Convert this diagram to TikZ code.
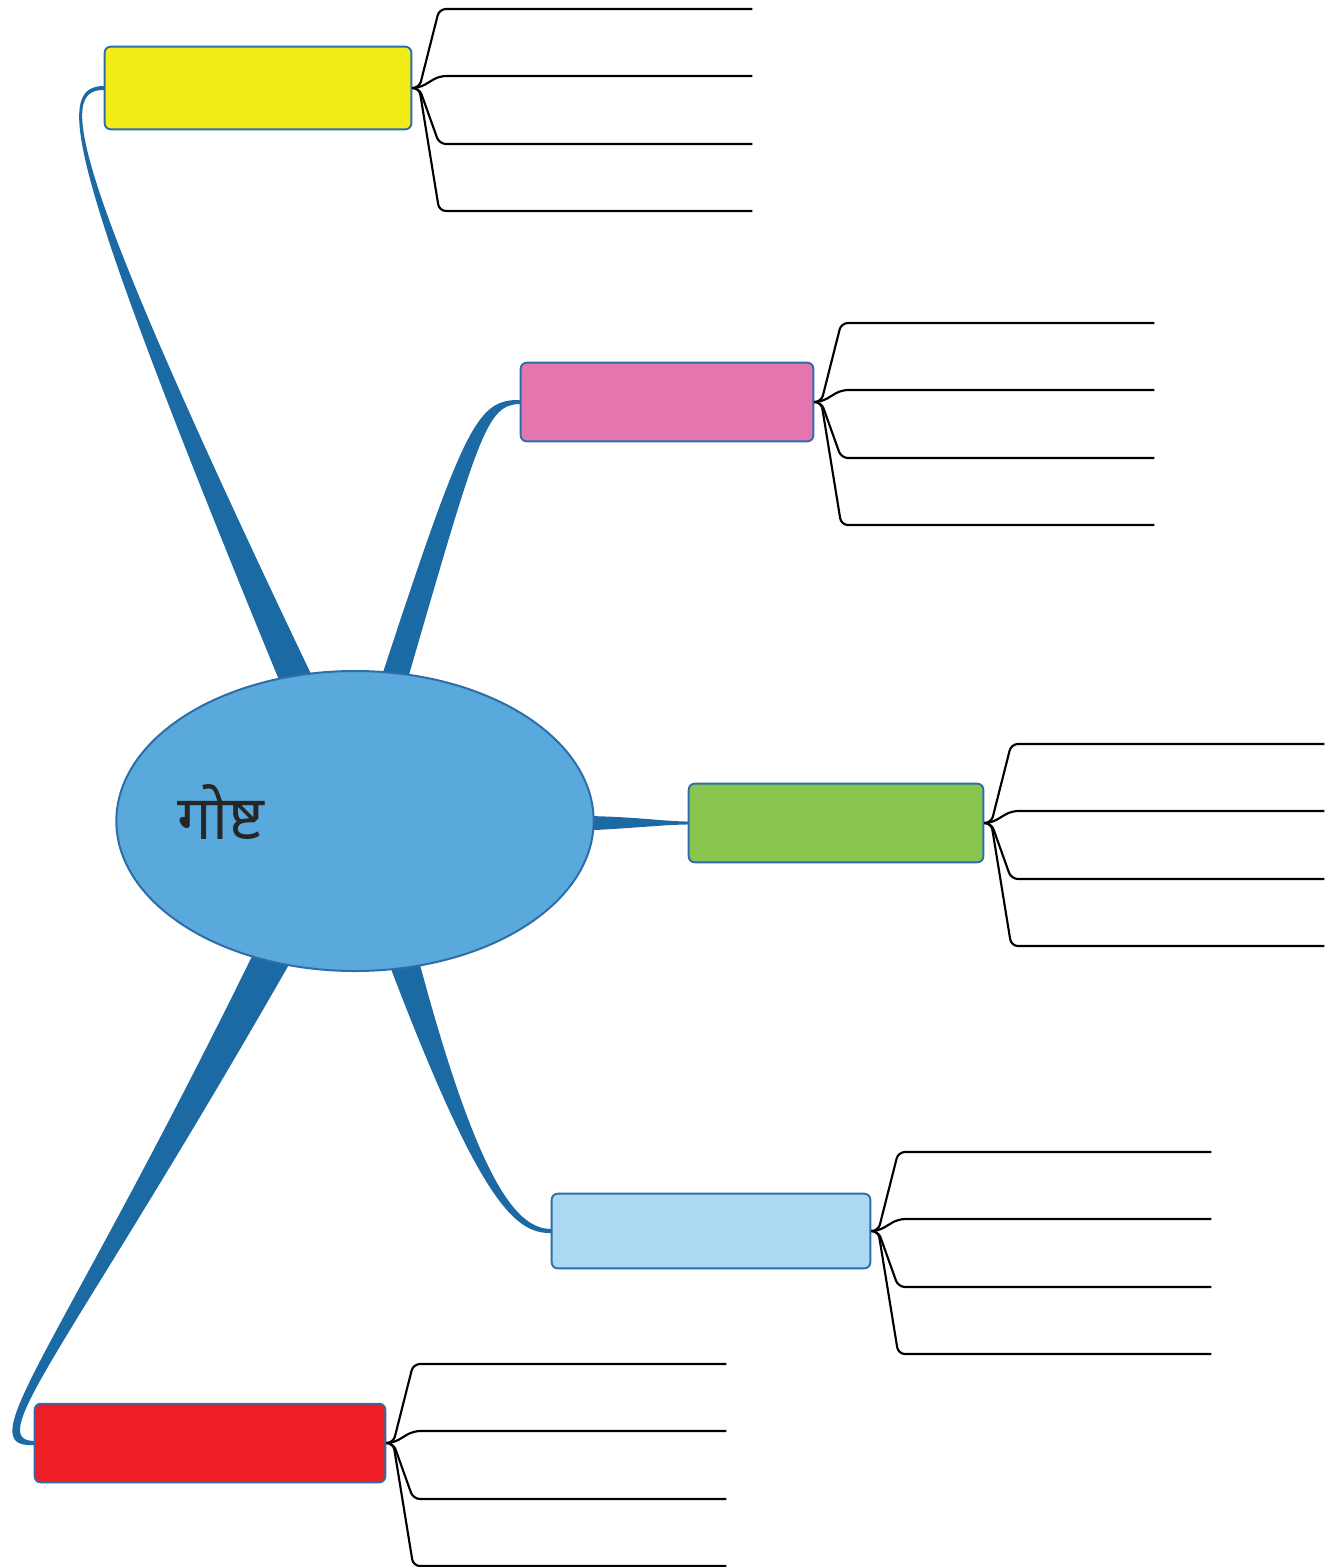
\documentclass[tikz,border=0pt]{standalone}
\usepackage{fontspec}
\newfontfamily\devfont[Script=Devanagari]{Noto Sans}
\usetikzlibrary{shapes.geometric,backgrounds}

\definecolor{storyblue}{HTML}{5AA9DC}
\definecolor{edgeblue}{HTML}{2C6DAA}
\definecolor{branchblue}{HTML}{1C6AA4}
\definecolor{topicyellow}{HTML}{F2EC17}
\definecolor{topicpink}{HTML}{E475AE}
\definecolor{topicgreen}{HTML}{8AC550}
\definecolor{topicsky}{HTML}{ABD8F3}
\definecolor{topicred}{HTML}{EE1F24}

\tikzset{
  topic/.style={rectangle, rounded corners=4.5pt, draw=edgeblue, line width=1.4pt, inner sep=0pt},
  branch/.style={fill=branchblue, draw=branchblue, line width=1pt, line join=round},
  twig/.style={draw=black, line width=1.6pt, rounded corners=5pt},
}

\begin{document}
\begin{tikzpicture}[x=0.75pt, y=-0.75pt]
  \useasboundingbox (0,0) rectangle (1334,1567);

  % centre and topics
  \node[ellipse, draw=edgeblue, fill=storyblue, line width=1.5pt, minimum width=358pt, minimum height=225pt, inner sep=0pt] (story) at (355,821) {};
  \node[font=\devfont\fontsize{46}{50}\selectfont, text=black!85] (title) at (221,812) {गोष्ट};

  \node[topic, fill=topicyellow, minimum width=230pt, minimum height=62pt] (yellowbox) at (258,88) {};
  \node[topic, fill=topicpink, minimum width=219.5pt, minimum height=59pt] (pinkbox) at (667,402) {};
  \node[topic, fill=topicgreen, minimum width=221pt, minimum height=59pt] (greenbox) at (836,823) {};
  \node[topic, fill=topicsky, minimum width=239pt, minimum height=56pt] (skybox) at (711,1231) {};
  \node[topic, fill=topicred, minimum width=263pt, minimum height=59pt] (redbox) at (210,1443) {};

  % tapered branches under the nodes
  \begin{scope}[on background layer]
    \draw[branch] ([yshift=1pt]yellowbox.west) .. controls (55,87) and (66,160) .. (story.118)
      -- (story.107) .. controls (66,162) and (57,89) .. ([yshift=-1pt]yellowbox.west) -- cycle;
    \draw[branch] ([yshift=1pt]pinkbox.west) .. controls (478,400) and (465,425) .. (story.79)
      -- (story.70) .. controls (478,435) and (486,404) .. ([yshift=-1pt]pinkbox.west) -- cycle;
    \draw[branch] (story.1) .. controls (640,818) and (665,822) .. ([yshift=.6pt]greenbox.west)
      -- ([yshift=-.6pt]greenbox.west) .. controls (665,824) and (640,827) .. (story.-2) -- cycle;
    \draw[branch] ([yshift=-1pt]skybox.west) .. controls (515,1233) and (480,1200) .. (story.-76)
      -- (story.-66) .. controls (480,1190) and (518,1229) .. ([yshift=1pt]skybox.west) -- cycle;
    \draw[branch] ([yshift=-1pt]redbox.west) .. controls (-30,1448) and (56,1357) .. (story.-127)
      -- (story.-115) .. controls (70,1346) and (-18,1440) .. ([yshift=1pt]redbox.west) -- cycle;
  \end{scope}

  % sub-topic lines
  \foreach \boxname in {yellowbox,pinkbox,greenbox,skybox,redbox}
    \foreach \dy in {-79,-12,56,123}
      \draw[twig] (\boxname.east) -- ++(7,0) -- ++(20,\dy) -- ++(313,0);
\end{tikzpicture}
\end{document}
